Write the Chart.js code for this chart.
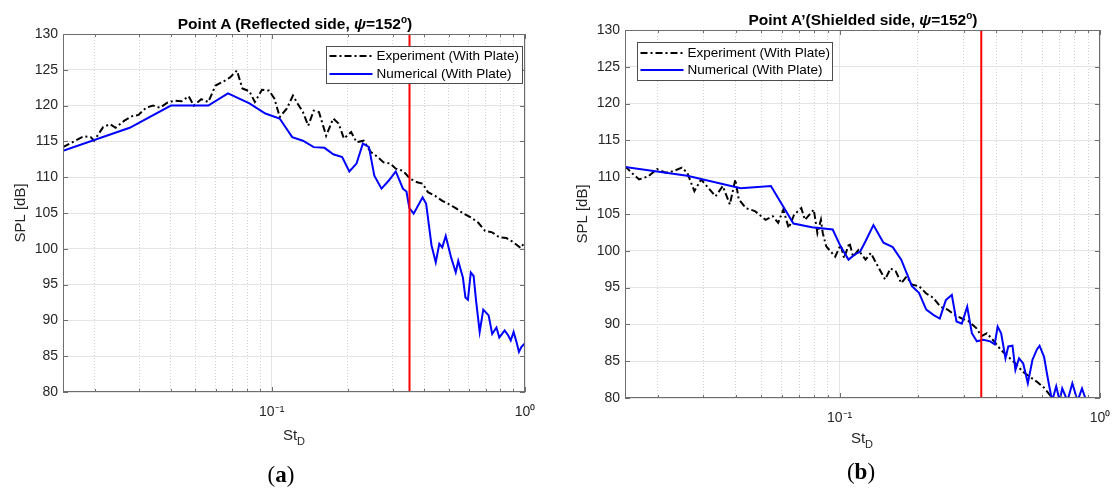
<!DOCTYPE html>
<html>
<head>
<meta charset="utf-8">
<script src="https://cdn.jsdelivr.net/npm/chart.js@4.4.1/dist/chart.umd.min.js"></script>
<style>
  html, body { margin: 0; padding: 0; background: #fff; }
  body { width: 1115px; height: 491px; position: relative; overflow: hidden;
         font-family: "Liberation Sans", Arial, Helvetica, sans-serif; color: #262626; }
  .panel { position: absolute; top: 0; }
  .panel canvas { display: block; }
  .ttl { position: absolute; font-weight: bold; font-size: 15.5px; line-height: 1; color: #000;
         white-space: nowrap; transform: translate(-50%, -50%); }
  .ttl sup { font-size: 10px; vertical-align: 6px; line-height: 0; }
  .xl { position: absolute; font-size: 15px; line-height: 1; white-space: nowrap; color: #262626;
        transform: translate(-50%, -50%); }
  .xl sub { font-size: 11px; vertical-align: -5px; line-height: 0; }
  .cap { position: absolute; font-family: "Liberation Serif", "Times New Roman", serif; font-size: 23px;
         line-height: 1; color: #000; transform: translate(-50%, -50%); }
</style>
</head>
<body>
<div class="panel" style="left:0px"><canvas id="chartA" width="540" height="440"></canvas></div>
<div class="panel" style="left:560px"><canvas id="chartB" width="555" height="440"></canvas></div>

<div class="ttl" style="left:295px;top:24px">Point A (Reflected side, <i>ψ</i>=152<sup>o</sup>)</div>
<div class="ttl" style="left:863px;top:20px">Point A’(Shielded side, <i>ψ</i>=152<sup>o</sup>)</div>
<div class="xl" style="left:294px;top:434px">St<sub>D</sub></div>
<div class="xl" style="left:862px;top:437px">St<sub>D</sub></div>
<div class="cap" style="left:281px;top:474px">(<b>a</b>)</div>
<div class="cap" style="left:861px;top:471px">(<b>b</b>)</div>

<script>
// ---- Point A (reflected side): Strouhal number vs SPL [dB] ----
const stExpA = [0.0150, 0.0181, 0.0193, 0.0199, 0.0216, 0.0230, 0.0242, 0.0262, 0.0280, 0.0298,
  0.0319, 0.0340, 0.0362, 0.0387, 0.0413, 0.0441, 0.0470, 0.0493, 0.0527, 0.0562,
  0.0600, 0.0640, 0.0683, 0.0729, 0.0766, 0.0817, 0.0858, 0.0915, 0.0976, 0.1024,
  0.1076, 0.1148, 0.1213, 0.1265, 0.1328, 0.1394, 0.1465, 0.1537, 0.1640, 0.1750,
  0.1837, 0.1928, 0.2059, 0.2162, 0.2307, 0.2462, 0.2627, 0.2757, 0.2942, 0.3089,
  0.3296, 0.3518, 0.3753, 0.3942, 0.4140, 0.4418, 0.4714, 0.5030, 0.5367, 0.5724,
  0.6108, 0.6517, 0.6954, 0.7421, 0.7918, 0.8449, 0.9015, 0.9620, 1.0000];
const splExpA = [114.2, 115.7, 115.6, 115.1, 117.0, 117.4, 116.9, 117.9, 118.5, 118.7,
  119.7, 120.0, 119.7, 120.4, 120.7, 120.6, 121.3, 120.0, 120.9, 120.5,
  122.8, 123.3, 123.9, 124.9, 122.4, 122.0, 120.5, 122.2, 122.1, 121.0,
  118.4, 119.6, 121.4, 120.3, 119.1, 117.2, 119.3, 119.1, 115.8, 118.2,
  117.5, 115.4, 116.3, 114.9, 115.1, 113.5, 112.8, 112.1, 111.9, 111.2,
  110.9, 109.8, 109.3, 109.1, 107.9, 107.4, 106.7, 106.2, 105.6, 104.9,
  104.4, 103.7, 102.5, 102.3, 101.6, 101.5, 100.9, 100.1, 101.0];

const stNumA = [0.0150, 0.0275, 0.0400, 0.0562, 0.0672, 0.0817, 0.0944, 0.1075, 0.1205, 0.1328,
  0.1465, 0.1616, 0.1750, 0.1898, 0.2025, 0.2162, 0.2291, 0.2421, 0.2542, 0.2713,
  0.2894, 0.3089, 0.3296, 0.3404, 0.3495, 0.3634, 0.3942, 0.4071, 0.4274, 0.4443,
  0.4589, 0.4714, 0.4865, 0.5108, 0.5328, 0.5451, 0.5686, 0.5818, 0.5952, 0.6109,
  0.6268, 0.6412, 0.6624, 0.6843, 0.7184, 0.7421, 0.7715, 0.7918, 0.8312, 0.8587,
  0.8785, 0.9015, 0.9252, 0.9465, 0.9683, 1.0000];
const splNumA = [113.7, 116.9, 120.0, 120.0, 121.7, 120.3, 118.9, 118.2, 115.6, 115.1,
  114.2, 114.1, 113.2, 112.8, 110.8, 111.9, 114.7, 114.2, 110.2, 108.4,
  109.5, 110.8, 108.4, 108.0, 105.7, 104.9, 107.2, 106.3, 100.5, 98.1,
  100.7, 100.2, 101.8, 98.8, 96.7, 98.3, 96.0, 93.2, 92.9, 96.7,
  96.2, 92.7, 88.4, 91.5, 90.7, 88.1, 89.0, 87.6, 88.6, 87.9,
  87.2, 88.4, 87.0, 85.6, 86.3, 86.8];

// ---- Point A' (shielded side) ----
const stExpB = [0.0150, 0.0159, 0.0170, 0.0184, 0.0199, 0.0215, 0.0229, 0.0248, 0.0260, 0.0277,
  0.0294, 0.0309, 0.0334, 0.0356, 0.0379, 0.0398, 0.0410, 0.0437, 0.0473, 0.0520,
  0.0554, 0.0581, 0.0608, 0.0638, 0.0669, 0.0713, 0.0736, 0.0796, 0.0822, 0.0848,
  0.0862, 0.0889, 0.0962, 0.1009, 0.1041, 0.1091, 0.1127, 0.1181, 0.1258, 0.1319,
  0.1383, 0.1496, 0.1569, 0.1644, 0.1725, 0.1808, 0.1896, 0.2018, 0.2152, 0.2291,
  0.2440, 0.2599, 0.2768, 0.2948, 0.3140, 0.3349, 0.3508, 0.3680, 0.3919, 0.4173,
  0.4445, 0.4734, 0.5042, 0.5370, 0.5726, 0.6098, 0.6494, 0.6700];
const splExpB = [111.5, 110.6, 109.7, 110.1, 111.1, 110.6, 110.8, 111.3, 110.6, 108.1,
  109.7, 108.8, 107.4, 108.8, 106.3, 109.7, 107.0, 105.8, 105.4, 104.2,
  104.7, 103.8, 105.6, 103.1, 104.9, 105.8, 104.2, 105.6, 102.4, 104.2,
  102.4, 100.6, 99.2, 100.8, 99.0, 101.1, 99.2, 100.1, 98.8, 99.7,
  98.3, 96.1, 97.6, 97.2, 95.6, 96.5, 95.4, 95.2, 94.2, 93.6,
  92.4, 92.0, 91.3, 90.8, 90.4, 89.5, 88.4, 88.8, 87.7, 86.5,
  85.6, 84.7, 83.6, 82.9, 82.2, 81.4, 80.2, 79.5];

const stNumB = [0.0150, 0.0260, 0.0417, 0.0545, 0.0665, 0.0783, 0.0941, 0.1009, 0.1082, 0.1145,
  0.1200, 0.1258, 0.1349, 0.1474, 0.1600, 0.1725, 0.1808, 0.1896, 0.2018, 0.2152,
  0.2291, 0.2425, 0.2559, 0.2698, 0.2812, 0.2948, 0.3091, 0.3221, 0.3367, 0.3564,
  0.3787, 0.3942, 0.4045, 0.4173, 0.4335, 0.4445, 0.4613, 0.4734, 0.4887, 0.5072,
  0.5283, 0.5505, 0.5726, 0.5861, 0.6098, 0.6251, 0.6386, 0.6550, 0.6790, 0.7000,
  0.7160, 0.7500, 0.7830, 0.8200, 0.8530, 0.8860];
const splNumB = [111.4, 110.2, 108.5, 108.8, 103.7, 103.2, 102.9, 100.6, 98.8, 99.5,
  99.9, 101.3, 103.5, 101.1, 100.5, 98.8, 97.0, 95.2, 94.3, 92.0,
  91.3, 90.8, 93.3, 94.0, 90.4, 90.1, 92.4, 88.8, 87.7, 87.9,
  87.7, 87.3, 89.7, 88.8, 85.4, 87.0, 87.1, 83.8, 85.4, 84.7,
  82.0, 85.2, 86.6, 87.1, 85.6, 83.4, 81.6, 79.6, 81.6, 79.6,
  81.3, 79.6, 82.0, 79.6, 81.3, 79.6];

// Vertical reference Strouhal number (red line)
const markerSt = 0.35;

// Axis ticks
const stTicks = [0.02, 0.03, 0.04, 0.05, 0.06, 0.07, 0.08, 0.09,
                 0.1, 0.2, 0.3, 0.4, 0.5, 0.6, 0.7, 0.8, 0.9, 1];
const stTickLabels = new Map([[0.1, '10⁻¹'], [1, '10⁰']]);
const splMin = 80, splMax = 130, splStep = 5;

const seriesNames = ['Experiment (With Plate)', 'Numerical (With Plate)'];

const FONT = '"Liberation Sans", Arial, Helvetica, sans-serif';
const TEXT = '#262626';
Chart.defaults.font.family = FONT;

const isDecade = v => Math.abs(Math.log10(v) - Math.round(Math.log10(v))) < 1e-9;
const pts = (xs, ys) => xs.map((x, i) => ({ x, y: ys[i] }));

// Axes box with inward tick marks on all four sides
const frameTicks = {
  id: 'frameTicks',
  afterDatasetsDraw(chart, _args, o) {
    const { ctx, chartArea: a, scales: { x, y } } = chart;
    ctx.save();
    ctx.strokeStyle = o.color;
    ctx.lineWidth = 1;
    ctx.beginPath();
    for (const t of x.ticks) {
      const px = Math.round(x.getPixelForValue(t.value)) + 0.5;
      const len = isDecade(t.value) ? o.majorLen : o.minorLen;
      ctx.moveTo(px, a.bottom); ctx.lineTo(px, a.bottom - len);
      ctx.moveTo(px, a.top); ctx.lineTo(px, a.top + len);
    }
    for (const t of y.ticks) {
      const py = Math.round(y.getPixelForValue(t.value)) + 0.5;
      ctx.moveTo(a.left, py); ctx.lineTo(a.left + o.majorLen, py);
      ctx.moveTo(a.right, py); ctx.lineTo(a.right - o.majorLen, py);
    }
    ctx.stroke();
    ctx.strokeRect(a.left + 0.5, a.top + 0.5, a.right - a.left - 1, a.bottom - a.top - 1);
    ctx.restore();
  }
};

// Boxed legend placed inside the axes
const boxLegend = {
  id: 'boxLegend',
  afterDraw(chart, _args, o) {
    const { ctx, chartArea: a } = chart;
    const items = chart.data.datasets.filter(d => d.inLegend);
    const left = Math.round(a.left + o.dx) + 0.5;
    const top = Math.round(a.top + o.dy) + 0.5;
    ctx.save();
    ctx.fillStyle = '#fff';
    ctx.fillRect(left, top, o.width, o.height);
    ctx.strokeStyle = o.borderColor;
    ctx.lineWidth = 1;
    ctx.strokeRect(left, top, o.width, o.height);
    ctx.font = o.font;
    ctx.textBaseline = 'middle';
    ctx.textAlign = 'left';
    items.forEach((d, i) => {
      const yy = Math.round(top + o.firstRow + i * o.rowGap);
      ctx.beginPath();
      ctx.setLineDash(d.borderDash || []);
      ctx.strokeStyle = d.borderColor;
      ctx.lineWidth = d.borderWidth;
      ctx.moveTo(left + 3, yy);
      ctx.lineTo(left + 3 + o.sample, yy);
      ctx.stroke();
      ctx.setLineDash([]);
      ctx.fillStyle = '#000';
      ctx.fillText(d.label, left + o.textX, yy + 0.5);
    });
    ctx.restore();
  }
};

function makePanel(id, cfg) {
  return new Chart(document.getElementById(id), {
    type: 'line',
    data: {
      datasets: [
        { label: seriesNames[0], data: pts(cfg.stExp, cfg.splExp),
          borderColor: '#000000', borderWidth: 2, borderDash: [7, 3, 2, 3], pointRadius: 0,
          tension: 0, order: 2, inLegend: true },
        { label: seriesNames[1], data: pts(cfg.stNum, cfg.splNum),
          borderColor: '#0000ff', borderWidth: 2, pointRadius: 0, tension: 0, order: 1, inLegend: true },
        { label: 'xline', data: [{ x: markerSt, y: splMin }, { x: markerSt, y: splMax }],
          borderColor: '#ff0000', borderWidth: 2, pointRadius: 0, order: 0, inLegend: false }
      ]
    },
    options: {
      responsive: false,
      animation: false,
      events: [],
      layout: { padding: cfg.padding },
      plugins: {
        legend: { display: false },
        tooltip: { enabled: false },
        frameTicks: { color: '#6e6e6e', majorLen: 5, minorLen: 3 },
        boxLegend: Object.assign({ borderColor: '#4d4d4d', font: '13.5px ' + FONT,
                                   sample: 43, textX: 50, rowGap: 17.5 }, cfg.legend)
      },
      scales: {
        x: {
          type: 'logarithmic', min: 0.015, max: 1,
          afterBuildTicks: s => { s.ticks = stTicks.map(v => ({ value: v })); },
          afterFit: s => { s.height = 30; s.paddingLeft = 0; s.paddingRight = 0; },
          ticks: { autoSkip: false, maxRotation: 0, minRotation: 0, padding: 12, color: TEXT,
                   font: { size: 14 }, callback: v => stTickLabels.get(v) || '' },
          grid: { drawTicks: false, lineWidth: 1,
                  color: c => (c.tick && !isDecade(c.tick.value)) ? '#d2d2d2' : '#e4e4e4' },
          border: { display: false, dash: c => (c.tick && !isDecade(c.tick.value)) ? [1, 2] : [] }
        },
        y: {
          type: 'linear', min: splMin, max: splMax,
          afterFit: s => { s.width = cfg.yWidth; s.paddingTop = 0; s.paddingBottom = 0; },
          ticks: { stepSize: splStep, padding: 5, color: TEXT, font: { size: 14 } },
          grid: { drawTicks: false, color: '#e4e4e4', lineWidth: 1 },
          border: { display: false },
          title: { display: true, text: 'SPL [dB]', color: TEXT, font: { size: 15 },
                   padding: { top: cfg.yTitlePad, bottom: 0 } }
        }
      }
    },
    plugins: [frameTicks, boxLegend]
  });
}

makePanel('chartA', {
  stExp: stExpA, splExp: splExpA, stNum: stNumA, splNum: splNumA,
  padding: { left: 0, top: 34, right: 15, bottom: 18 }, yWidth: 63, yTitlePad: 12,
  legend: { dx: 263, dy: 12, width: 196, height: 37, firstRow: 9.5 }
});
makePanel('chartB', {
  stExp: stExpB, splExp: splExpB, stNum: stNumB, splNum: splNumB,
  padding: { left: 0, top: 30, right: 15, bottom: 12 }, yWidth: 65, yTitlePad: 14,
  legend: { dx: 12, dy: 12, width: 195, height: 38, firstRow: 10 }
});
</script>
</body>
</html>
